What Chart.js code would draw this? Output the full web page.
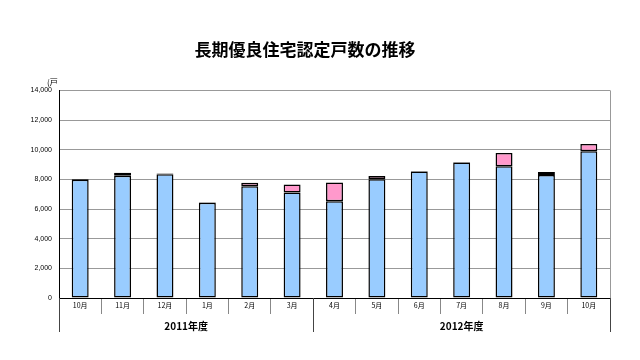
<!DOCTYPE html>
<html><head><meta charset="utf-8">
<script src="https://cdn.jsdelivr.net/npm/chart.js@4"></script>
<style>html,body{margin:0;padding:0;background:#fff}#wrap{width:640px;height:360px}</style>
</head><body><div id="wrap"><canvas id="c" width="640" height="360"></canvas></div>
<script>
const months = ["10月","11月","12月","1月","2月","3月","4月","5月","6月","7月","8月","9月","10月"];
const blueValues = [7980, 8250, 8350, 6430, 7530, 7120, 6520, 8000, 8530, 9140, 8880, 8300, 9890];
const pinkValues = [50, 200, 40, 30, 250, 530, 1270, 220, 40, 30, 900, 200, 490];
const groupLabels = ["2011年度", "2012年度"];
const groupSizes = [6, 7];
const yTicks = [0, 2000, 4000, 6000, 8000, 10000, 12000, 14000];
const unitLabel = "(戸";
const titleText = "長期優良住宅認定戸数の推移";

const JP = "'Noto Sans CJK JP', 'DejaVu Sans', sans-serif";

const groupPlugin = {
  id: 'groups',
  afterDraw(chart) {
    const ctx = chart.ctx;
    const x = chart.scales.x;
    const area = chart.chartArea;
    const step = x.getPixelForValue(1) - x.getPixelForValue(0);
    ctx.save();
    ctx.strokeStyle = '#999';
    ctx.lineWidth = 1;
    ctx.beginPath();
    ctx.moveTo(Math.round(area.right) + 0.5, area.top);
    ctx.lineTo(Math.round(area.right) + 0.5, area.bottom);
    ctx.stroke();
    ctx.strokeStyle = '#444';
    let start = 0;
    const bounds = [];
    groupSizes.forEach((n) => {
      const l = x.getPixelForValue(start) - step / 2;
      const r = x.getPixelForValue(start + n - 1) + step / 2;
      bounds.push([l, r]);
      start += n;
    });
    const edges = new Set();
    bounds.forEach(b => { edges.add(Math.round(b[0])); edges.add(Math.round(b[1])); });
    edges.forEach(px => {
      ctx.beginPath();
      ctx.moveTo(px + 0.5, area.bottom);
      ctx.lineTo(px + 0.5, area.bottom + 34);
      ctx.stroke();
    });
    ctx.fillStyle = '#000';
    ctx.font = 'bold 10px ' + JP;
    ctx.textAlign = 'center';
    ctx.textBaseline = 'middle';
    bounds.forEach((b, i) => {
      ctx.fillText(groupLabels[i], (b[0] + b[1]) / 2, area.bottom + 28);
    });
    ctx.font = '8px ' + JP;
    ctx.textAlign = 'left';
    ctx.fillText(unitLabel, area.left - 12, area.top - 8);
    ctx.restore();
  }
};

new Chart(document.getElementById('c'), {
  type: 'bar',
  data: {
    labels: months,
    datasets: [
      { label: 'a', data: blueValues, backgroundColor: '#99CCFF', borderColor: '#000', borderWidth: 1.5, borderSkipped: false, barPercentage: 0.4, categoryPercentage: 1.0 },
      { label: 'b', data: pinkValues, backgroundColor: '#FF99CC', borderColor: '#000', borderWidth: 1.5, borderSkipped: false, barPercentage: 0.4, categoryPercentage: 1.0 }
    ]
  },
  plugins: [groupPlugin],
  options: {
    responsive: false,
    animation: false,
    layout: { padding: { left: 0, right: 30, top: 0, bottom: 0 } },
    plugins: {
      legend: { display: false },
      tooltip: { enabled: false },
      title: {
        display: true, text: titleText, color: '#000',
        font: { family: JP, size: 17, weight: 'bold' },
        padding: { top: 39, bottom: 31 }
      }
    },
    scales: {
      x: {
        stacked: true,
        offset: true,
        grid: { offset: true, drawOnChartArea: false, drawTicks: true, tickLength: 16, color: '#888' },
        border: { color: '#000', width: 1 },
        ticks: { color: '#000', font: { family: JP, size: 7 }, padding: -13, maxRotation: 0, autoSkip: false },
        afterFit(s) { s.height = 62; }
      },
      y: {
        stacked: true,
        min: 0, max: 14000,
        afterBuildTicks(s) { s.ticks = yTicks.map(v => ({ value: v })); },
        grid: { color: '#999', drawTicks: false },
        border: { color: '#000', width: 1 },
        ticks: {
          color: '#000', font: { family: 'Liberation Sans, Arial, sans-serif', size: 7 }, padding: 7,
          callback: v => v.toLocaleString('en-US')
        },
        afterFit(s) { s.width = 59; }
      }
    }
  }
});
</script>
</body></html>
